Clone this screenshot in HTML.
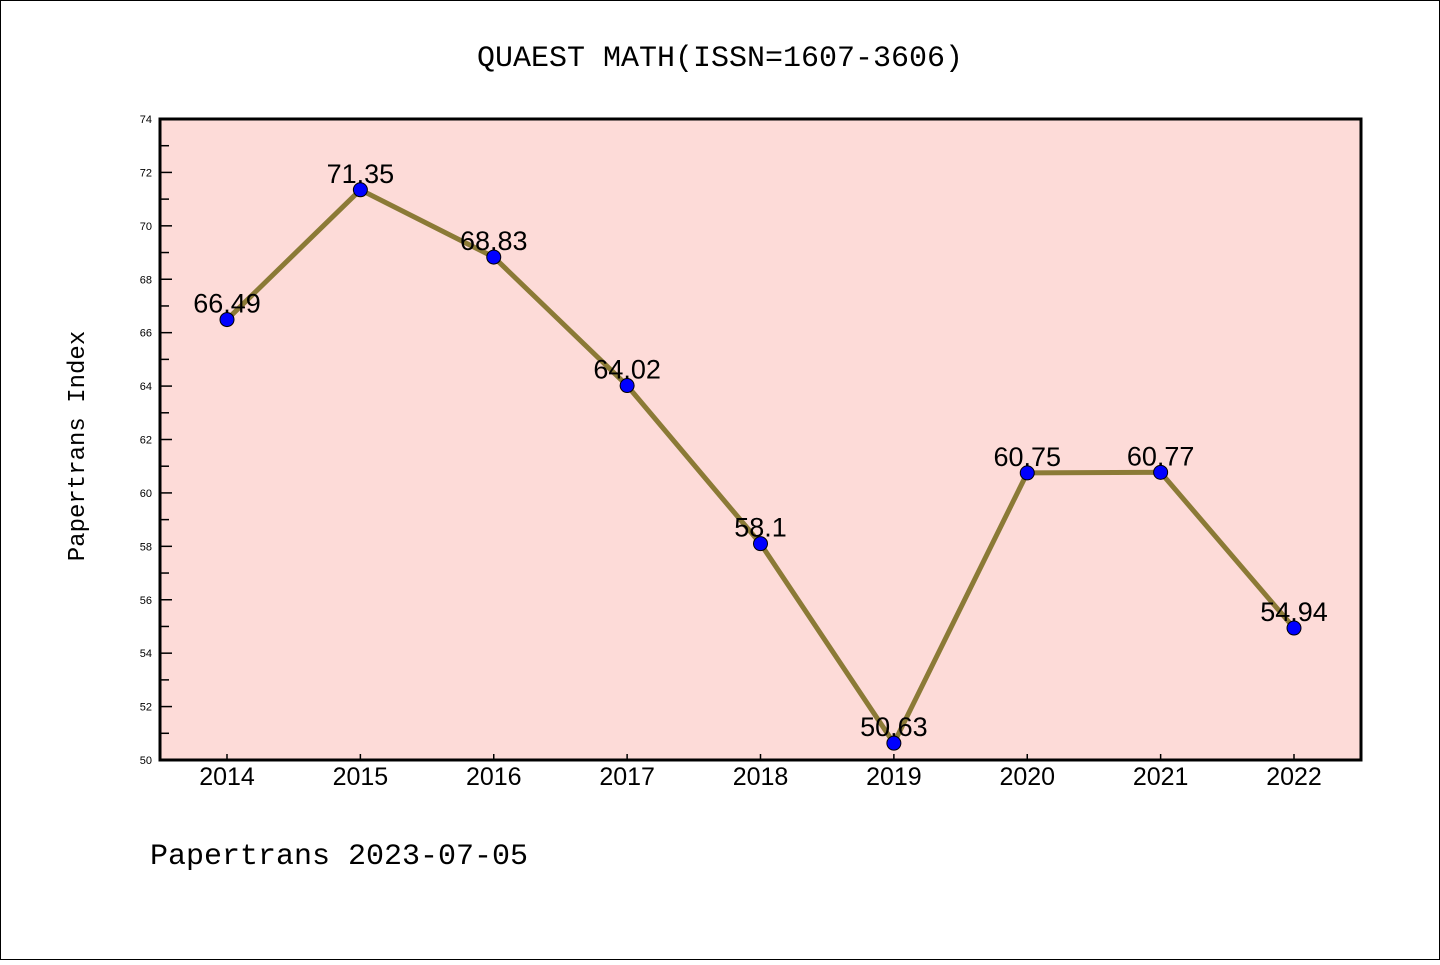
<!DOCTYPE html>
<html><head><meta charset="utf-8"><style>
body{margin:0;background:#fff}
svg text{font-family:"Liberation Mono","DejaVu Sans Mono",monospace}
svg text.sans{font-family:"Liberation Sans","DejaVu Sans",sans-serif}
</style></head><body>
<svg id="c" width="1440" height="960" xmlns="http://www.w3.org/2000/svg">
<rect x="0.5" y="0.5" width="1439" height="959" fill="#fff" stroke="#000"/>
<text x="720" y="66" text-anchor="middle" font-size="30">QUAEST MATH(ISSN=1607-3606)</text>
<rect x="160" y="119" width="1201" height="641" fill="#fddbd8"/>
<g id="axes"></g>
<g id="series"></g>
<rect x="160" y="119" width="1201" height="641" fill="none" stroke="#000" stroke-width="3"/>
<text transform="translate(84,446) rotate(-90)" text-anchor="middle" font-size="24">Papertrans Index</text>
<text x="150" y="864" font-size="30">Papertrans 2023-07-05</text>
</svg>
<script>
const years=[2014,2015,2016,2017,2018,2019,2020,2021,2022];
const values=[66.49,71.35,68.83,64.02,58.1,50.63,60.75,60.77,54.94];
const labels=["66.49","71.35","68.83","64.02","58.1","50.63","60.75","60.77","54.94"];
const yTicks=[50,52,54,56,58,60,62,64,66,68,70,72,74];
const NS="http://www.w3.org/2000/svg";
const yMin=50,yMax=74,yTop=119,yBot=760;
function y(v){return yBot-(v-yMin)/(yMax-yMin)*(yBot-yTop);}
function x(i){return 227+i*(1294-227)/(years.length-1);}
function mk(t,a,p){const e=document.createElementNS(NS,t);for(const k in a)e.setAttribute(k,a[k]);p.appendChild(e);return e;}
const ax=document.getElementById('axes'),se=document.getElementById('series');
yTicks.forEach((v,i)=>{
 const l=mk('line',{x1:160,x2:172,y1:y(v),y2:y(v),stroke:'#000','stroke-width':1.5},ax);
 
 
 const t=mk('text',{x:152,y:y(v)+4,'text-anchor':'end','font-size':11,'class':'sans'},ax);
 t.textContent=v;
 
 
 if(i<yTicks.length-1){
  const m=mk('line',{x1:160,x2:169,y1:y(v+1),y2:y(v+1),stroke:'#000','stroke-width':1.5},ax);
  
  
 }
});
years.forEach((yr,i)=>{
 const l=mk('line',{x1:x(i),x2:x(i),y1:yBot,y2:yBot-6,stroke:'#000','stroke-width':1.5},ax);
 
 
 const t=mk('text',{x:x(i),y:785,'text-anchor':'middle','font-size':25,'class':'sans'},ax);
 t.textContent=yr;
 
 
});
const pl=mk('polyline',{points:values.map((v,i)=>x(i)+','+y(v)).join(' '),fill:'none',stroke:'#8b7a36','stroke-width':5},se);


values.forEach((v,i)=>{
 const c=mk('circle',{cx:x(i),cy:y(v),r:7,fill:'#0000ff',stroke:'#000','stroke-width':1},se);
 
 
 const t=mk('text',{x:x(i),y:y(v)-7,'text-anchor':'middle','font-size':27,'class':'sans'},se);
 t.textContent=labels[i];
 
 
});
</script>
</body></html>
